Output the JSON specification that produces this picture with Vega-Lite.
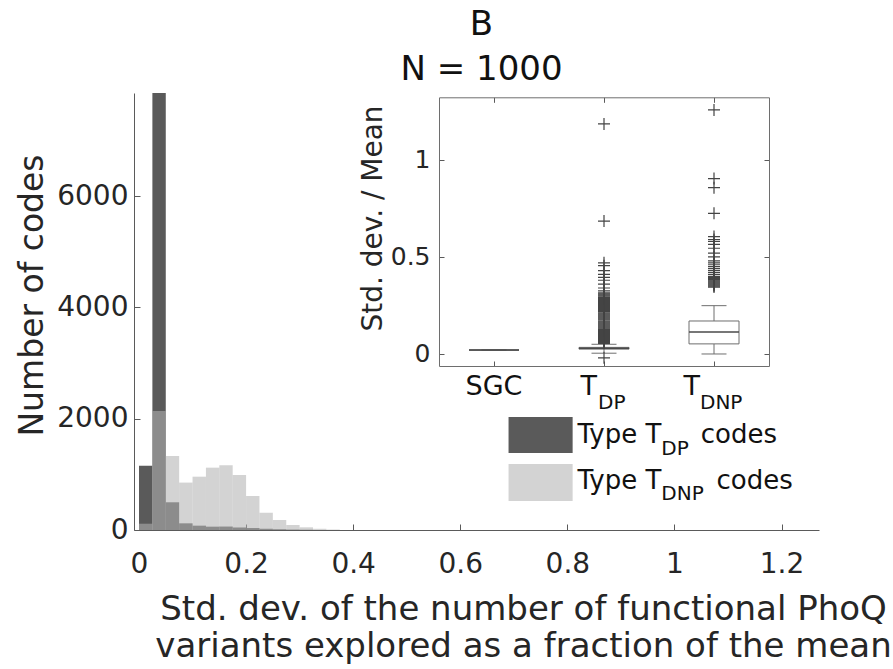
{
  "$schema": "https://vega.github.io/schema/vega-lite/v6.json",
  "width": 685,
  "height": 437,
  "autosize": {"type": "none"},
  "padding": {"left": 134, "top": 93, "right": 74, "bottom": 139},
  "background": "white",
  "config": {
    "font": "DejaVu Sans",
    "view": {"stroke": null},
    "axis": {"grid": false, "domainColor": "#5a5a5a", "tickColor": "#5a5a5a", "labelColor": "#262626", "titleColor": "#262626", "titleFontWeight": "normal", "labelFlush": false, "labelOverlap": false}
  },
  "title": {
    "text": ["B", "N = 1000"],
    "fontSize": 34,
    "fontWeight": "normal",
    "color": "#111111",
    "anchor": "middle",
    "frame": "group",
    "lineHeight": 45,
    "offset": 6,
    "dx": 5
  },
  "datasets": {
    "hist_tdp": [
      {"start": 0.0, "end": 0.025, "count": 1155},
      {"start": 0.025, "end": 0.05, "count": 7853},
      {"start": 0.05, "end": 0.075, "count": 498},
      {"start": 0.075, "end": 0.1, "count": 120},
      {"start": 0.1, "end": 0.125, "count": 78},
      {"start": 0.125, "end": 0.15, "count": 60},
      {"start": 0.15, "end": 0.175, "count": 62},
      {"start": 0.175, "end": 0.2, "count": 45},
      {"start": 0.2, "end": 0.225, "count": 35},
      {"start": 0.225, "end": 0.25, "count": 22},
      {"start": 0.25, "end": 0.275, "count": 14},
      {"start": 0.275, "end": 0.3, "count": 8},
      {"start": 0.3, "end": 0.325, "count": 5}
    ],
    "hist_tdnp": [
      {"start": 0.0, "end": 0.025, "count": 113},
      {"start": 0.025, "end": 0.05, "count": 2138},
      {"start": 0.05, "end": 0.075, "count": 1330},
      {"start": 0.075, "end": 0.1, "count": 852},
      {"start": 0.1, "end": 0.125, "count": 958},
      {"start": 0.125, "end": 0.15, "count": 1120},
      {"start": 0.15, "end": 0.175, "count": 1163},
      {"start": 0.175, "end": 0.2, "count": 988},
      {"start": 0.2, "end": 0.225, "count": 611},
      {"start": 0.225, "end": 0.25, "count": 311},
      {"start": 0.25, "end": 0.275, "count": 180},
      {"start": 0.275, "end": 0.3, "count": 90},
      {"start": 0.3, "end": 0.325, "count": 48},
      {"start": 0.325, "end": 0.35, "count": 22},
      {"start": 0.35, "end": 0.375, "count": 8}
    ],
    "box": [
      {"cat": "SGC", "lo": 0.02, "q1": 0.02, "median": 0.02, "q3": 0.02, "hi": 0.02},
      {"cat": "T_DP", "lo": 0.004, "q1": 0.025, "median": 0.03, "q3": 0.034, "hi": 0.05},
      {"cat": "T_DNP", "lo": 0.0, "q1": 0.052, "median": 0.113, "q3": 0.17, "hi": 0.249}
    ],
    "outliers": [
      {"cat": "T_DP", "value": -0.02},
      {"cat": "T_DP", "value": 0.055}, {"cat": "T_DP", "value": 0.06}, {"cat": "T_DP", "value": 0.065}, {"cat": "T_DP", "value": 0.07},
      {"cat": "T_DP", "value": 0.075}, {"cat": "T_DP", "value": 0.08}, {"cat": "T_DP", "value": 0.085}, {"cat": "T_DP", "value": 0.09},
      {"cat": "T_DP", "value": 0.095}, {"cat": "T_DP", "value": 0.1}, {"cat": "T_DP", "value": 0.105}, {"cat": "T_DP", "value": 0.11},
      {"cat": "T_DP", "value": 0.115}, {"cat": "T_DP", "value": 0.12}, {"cat": "T_DP", "value": 0.125}, {"cat": "T_DP", "value": 0.13},
      {"cat": "T_DP", "value": 0.135}, {"cat": "T_DP", "value": 0.14}, {"cat": "T_DP", "value": 0.145}, {"cat": "T_DP", "value": 0.15},
      {"cat": "T_DP", "value": 0.155}, {"cat": "T_DP", "value": 0.16}, {"cat": "T_DP", "value": 0.165}, {"cat": "T_DP", "value": 0.17},
      {"cat": "T_DP", "value": 0.175}, {"cat": "T_DP", "value": 0.18}, {"cat": "T_DP", "value": 0.185}, {"cat": "T_DP", "value": 0.19},
      {"cat": "T_DP", "value": 0.195}, {"cat": "T_DP", "value": 0.2}, {"cat": "T_DP", "value": 0.205}, {"cat": "T_DP", "value": 0.21},
      {"cat": "T_DP", "value": 0.215}, {"cat": "T_DP", "value": 0.22}, {"cat": "T_DP", "value": 0.225}, {"cat": "T_DP", "value": 0.23},
      {"cat": "T_DP", "value": 0.235}, {"cat": "T_DP", "value": 0.24}, {"cat": "T_DP", "value": 0.245}, {"cat": "T_DP", "value": 0.25},
      {"cat": "T_DP", "value": 0.255}, {"cat": "T_DP", "value": 0.26}, {"cat": "T_DP", "value": 0.265}, {"cat": "T_DP", "value": 0.27},
      {"cat": "T_DP", "value": 0.275}, {"cat": "T_DP", "value": 0.28}, {"cat": "T_DP", "value": 0.285}, {"cat": "T_DP", "value": 0.29},
      {"cat": "T_DP", "value": 0.295}, {"cat": "T_DP", "value": 0.3}, {"cat": "T_DP", "value": 0.305}, {"cat": "T_DP", "value": 0.31},
      {"cat": "T_DP", "value": 0.315}, {"cat": "T_DP", "value": 0.325}, {"cat": "T_DP", "value": 0.34}, {"cat": "T_DP", "value": 0.36},
      {"cat": "T_DP", "value": 0.38}, {"cat": "T_DP", "value": 0.395}, {"cat": "T_DP", "value": 0.41}, {"cat": "T_DP", "value": 0.43},
      {"cat": "T_DP", "value": 0.455}, {"cat": "T_DP", "value": 0.47}, {"cat": "T_DP", "value": 0.685}, {"cat": "T_DP", "value": 1.186},
      {"cat": "T_DNP", "value": 0.345}, {"cat": "T_DNP", "value": 0.35}, {"cat": "T_DNP", "value": 0.355}, {"cat": "T_DNP", "value": 0.36},
      {"cat": "T_DNP", "value": 0.365}, {"cat": "T_DNP", "value": 0.37}, {"cat": "T_DNP", "value": 0.375}, {"cat": "T_DNP", "value": 0.38},
      {"cat": "T_DNP", "value": 0.385}, {"cat": "T_DNP", "value": 0.39}, {"cat": "T_DNP", "value": 0.395}, {"cat": "T_DNP", "value": 0.4},
      {"cat": "T_DNP", "value": 0.41}, {"cat": "T_DNP", "value": 0.42}, {"cat": "T_DNP", "value": 0.43}, {"cat": "T_DNP", "value": 0.44},
      {"cat": "T_DNP", "value": 0.45}, {"cat": "T_DNP", "value": 0.46}, {"cat": "T_DNP", "value": 0.47}, {"cat": "T_DNP", "value": 0.48},
      {"cat": "T_DNP", "value": 0.5}, {"cat": "T_DNP", "value": 0.52}, {"cat": "T_DNP", "value": 0.545}, {"cat": "T_DNP", "value": 0.565},
      {"cat": "T_DNP", "value": 0.58}, {"cat": "T_DNP", "value": 0.59}, {"cat": "T_DNP", "value": 0.605}, {"cat": "T_DNP", "value": 0.725},
      {"cat": "T_DNP", "value": 0.857}, {"cat": "T_DNP", "value": 0.904}, {"cat": "T_DNP", "value": 1.258}
    ],
    "one": [{}]
  },
  "layer": [
    {
      "layer": [
        {
          "data": {"name": "hist_tdp"},
          "mark": {"type": "bar", "color": "#5a5a5a", "orient": "vertical"},
          "encoding": {
            "x": {
              "field": "start", "type": "quantitative",
              "scale": {"domain": [0, 1.2607], "nice": false, "zero": false},
              "axis": {
                "orient": "bottom",
                "values": [0, 0.2, 0.4, 0.6, 0.8, 1, 1.2],
                "format": "~g",
                "labelFontSize": 28,
                "labelPadding": 26,
                "tickSize": -6,
                "title": ["Std. dev. of the number of functional PhoQ", "variants explored as a fraction of the mean"],
                "titleFontSize": 34,
                "titleLineHeight": 37,
                "titleX": 389,
                "titleY": 62,
                "titleBaseline": "top",
                "titleAlign": "center"
              }
            },
            "x2": {"field": "end"},
            "y": {
              "field": "count", "type": "quantitative",
              "scale": {"domain": [0, 7853], "nice": false},
              "axis": {
                "orient": "left",
                "values": [0, 2000, 4000, 6000],
                "format": "d",
                "labelFontSize": 28,
                "labelPadding": 12,
                "tickSize": -6,
                "title": "Number of codes",
                "titleFontSize": 33,
                "titleAngle": -90,
                "titleX": -92,
                "titleY": 202,
                "titleBaseline": "alphabetic",
                "titleAlign": "center"
              }
            },
            "y2": {"datum": 0}
          }
        },
        {
          "data": {"name": "hist_tdnp"},
          "mark": {"type": "bar", "color": "#b2b2b2", "opacity": 0.57, "orient": "vertical"},
          "encoding": {
            "x": {"field": "start", "type": "quantitative"},
            "x2": {"field": "end"},
            "y": {"field": "count", "type": "quantitative"},
            "y2": {"datum": 0}
          }
        },
        {
          "data": {"name": "one"},
          "mark": {"type": "rect", "color": "#5a5a5a"},
          "encoding": {
            "x": {"datum": 0.6902, "type": "quantitative"},
            "x2": {"datum": 0.8099},
            "y": {"datum": 2031, "type": "quantitative"},
            "y2": {"datum": 1384}
          }
        },
        {
          "data": {"name": "one"},
          "mark": {"type": "rect", "color": "#b2b2b2", "opacity": 0.57},
          "encoding": {
            "x": {"datum": 0.6902, "type": "quantitative"},
            "x2": {"datum": 0.8099},
            "y": {"datum": 1186, "type": "quantitative"},
            "y2": {"datum": 521}
          }
        },
        {
          "data": {"name": "one"},
          "mark": {"type": "text", "text": "Type T", "fontSize": 26, "align": "left", "baseline": "alphabetic", "color": "#111111"},
          "encoding": {
            "x": {"datum": 0.819, "type": "quantitative"},
            "y": {"datum": 1558, "type": "quantitative"}
          }
        },
        {
          "data": {"name": "one"},
          "mark": {"type": "text", "text": "DP", "fontSize": 20, "align": "left", "baseline": "alphabetic", "color": "#111111"},
          "encoding": {
            "x": {"datum": 0.9755, "type": "quantitative"},
            "y": {"datum": 1348, "type": "quantitative"}
          }
        },
        {
          "data": {"name": "one"},
          "mark": {"type": "text", "text": "codes", "fontSize": 26, "align": "left", "baseline": "alphabetic", "color": "#111111"},
          "encoding": {
            "x": {"datum": 1.0491, "type": "quantitative"},
            "y": {"datum": 1558, "type": "quantitative"}
          }
        },
        {
          "data": {"name": "one"},
          "mark": {"type": "text", "text": "Type T", "fontSize": 26, "align": "left", "baseline": "alphabetic", "color": "#111111"},
          "encoding": {
            "x": {"datum": 0.819, "type": "quantitative"},
            "y": {"datum": 737, "type": "quantitative"}
          }
        },
        {
          "data": {"name": "one"},
          "mark": {"type": "text", "text": "DNP", "fontSize": 20, "align": "left", "baseline": "alphabetic", "color": "#111111"},
          "encoding": {
            "x": {"datum": 0.9755, "type": "quantitative"},
            "y": {"datum": 539, "type": "quantitative"}
          }
        },
        {
          "data": {"name": "one"},
          "mark": {"type": "text", "text": "codes", "fontSize": 26, "align": "left", "baseline": "alphabetic", "color": "#111111"},
          "encoding": {
            "x": {"datum": 1.0786, "type": "quantitative"},
            "y": {"datum": 737, "type": "quantitative"}
          }
        }
      ]
    },
    {
      "layer": [
        {
          "data": {"name": "box"},
          "mark": {"type": "rule", "color": "#6e6e6e", "strokeWidth": 1},
          "encoding": {
            "x": {
              "field": "cat", "type": "nominal",
              "scale": {"domain": ["SGC", "T_DP", "T_DNP"], "range": [305, 635], "paddingInner": 0, "paddingOuter": 0},
              "axis": {"orient": "bottom", "offset": -164, "labels": false, "title": null, "tickSize": -5, "domainColor": "#6e6e6e"}
            },
            "y": {
              "field": "lo", "type": "quantitative",
              "scale": {"domain": [-0.062, 1.323], "range": [273, 4.3], "nice": false, "zero": false},
              "axis": {
                "orient": "left",
                "offset": -305,
                "values": [0, 0.5, 1],
                "format": "~g",
                "labelFontSize": 25,
                "labelPadding": 14,
                "tickSize": -5,
                "domainColor": "#6e6e6e",
                "title": "Std. dev. / Mean",
                "titleFontSize": 28,
                "titleAngle": -90,
                "titleX": -58,
                "titleY": 125,
                "titleBaseline": "alphabetic",
                "titleAlign": "center"
              }
            },
            "y2": {"field": "hi"}
          }
        },
        {
          "data": {"name": "box"},
          "mark": {"type": "tick", "color": "#6e6e6e", "size": 25, "thickness": 1, "opacity": 1},
          "encoding": {
            "x": {"field": "cat", "type": "nominal", "axis": null},
            "y": {"field": "lo", "type": "quantitative", "axis": null}
          }
        },
        {
          "data": {"name": "box"},
          "mark": {"type": "tick", "color": "#6e6e6e", "size": 25, "thickness": 1, "opacity": 1},
          "encoding": {
            "x": {"field": "cat", "type": "nominal", "axis": null},
            "y": {"field": "hi", "type": "quantitative", "axis": null}
          }
        },
        {
          "data": {"name": "box"},
          "mark": {"type": "bar", "width": 50, "fill": "white", "stroke": "#6e6e6e", "strokeWidth": 1},
          "encoding": {
            "x": {"field": "cat", "type": "nominal", "axis": null},
            "y": {"field": "q1", "type": "quantitative", "axis": null},
            "y2": {"field": "q3"}
          }
        },
        {
          "data": {"name": "box"},
          "mark": {"type": "tick", "color": "#4a4a4a", "size": 50, "thickness": 1.5, "opacity": 1},
          "encoding": {
            "x": {"field": "cat", "type": "nominal", "axis": null},
            "y": {"field": "median", "type": "quantitative", "axis": null}
          }
        },
        {
          "data": {"name": "outliers"},
          "mark": {"type": "point", "shape": "M-1,0L1,0M0,-1L0,1", "size": 144, "filled": false, "stroke": "#444444", "strokeWidth": 1.2, "opacity": 1},
          "encoding": {
            "x": {
              "field": "cat", "type": "nominal",
              "axis": {"orient": "top", "offset": -4.3, "labels": false, "title": null, "tickSize": -5, "domainColor": "#6e6e6e"}
            },
            "y": {
              "field": "value", "type": "quantitative",
              "axis": {"orient": "right", "offset": -50, "values": [0, 0.5, 1], "labels": false, "title": null, "tickSize": -5, "domainColor": "#6e6e6e"}
            }
          }
        },
        {
          "data": {"name": "one"},
          "mark": {"type": "text", "text": "SGC", "fontSize": 27, "align": "center", "baseline": "alphabetic", "color": "#111111", "dy": 29},
          "encoding": {
            "x": {"datum": "SGC", "type": "nominal", "axis": null},
            "y": {"datum": -0.062, "type": "quantitative", "axis": null}
          }
        },
        {
          "data": {"name": "one"},
          "mark": {"type": "text", "text": "T", "fontSize": 27, "align": "right", "baseline": "alphabetic", "color": "#111111", "dx": -7, "dy": 29},
          "encoding": {
            "x": {"datum": "T_DP", "type": "nominal", "axis": null},
            "y": {"datum": -0.062, "type": "quantitative", "axis": null}
          }
        },
        {
          "data": {"name": "one"},
          "mark": {"type": "text", "text": "DP", "fontSize": 20, "align": "left", "baseline": "alphabetic", "color": "#111111", "dx": -6, "dy": 43},
          "encoding": {
            "x": {"datum": "T_DP", "type": "nominal", "axis": null},
            "y": {"datum": -0.062, "type": "quantitative", "axis": null}
          }
        },
        {
          "data": {"name": "one"},
          "mark": {"type": "text", "text": "T", "fontSize": 27, "align": "right", "baseline": "alphabetic", "color": "#111111", "dx": -14, "dy": 29},
          "encoding": {
            "x": {"datum": "T_DNP", "type": "nominal", "axis": null},
            "y": {"datum": -0.062, "type": "quantitative", "axis": null}
          }
        },
        {
          "data": {"name": "one"},
          "mark": {"type": "text", "text": "DNP", "fontSize": 20, "align": "left", "baseline": "alphabetic", "color": "#111111", "dx": -14, "dy": 43},
          "encoding": {
            "x": {"datum": "T_DNP", "type": "nominal", "axis": null},
            "y": {"datum": -0.062, "type": "quantitative", "axis": null}
          }
        }
      ]
    }
  ],
  "resolve": {
    "scale": {"x": "independent", "y": "independent"},
    "axis": {"x": "independent", "y": "independent"}
  }
}
